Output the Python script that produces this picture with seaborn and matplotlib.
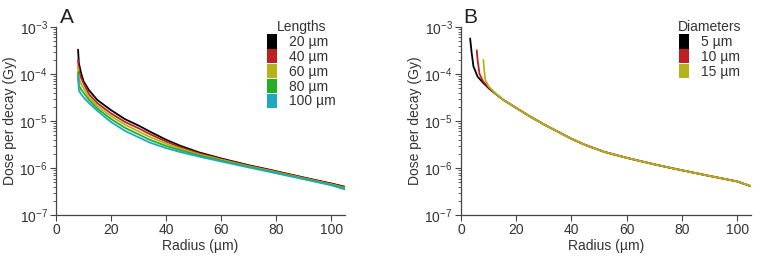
import pandas as pd
import matplotlib.pyplot as plt
import seaborn as sns
from matplotlib.patches import Patch

# -----------------------------
# Panel A: dose vs radius for different lengths
# -----------------------------
radius_a = [8, 8.3, 9, 10, 12, 15, 20, 25, 30, 34, 40, 45, 52, 60, 70, 78, 90, 100, 105]
len_20 = [3.3e-4, 1.7e-4, 1.1e-4, 7.0e-5, 4.5e-5, 2.8e-5, 1.7e-5, 1.1e-5, 8.0e-6, 6.0e-6,
          4.0e-6, 3.0e-6, 2.15e-6, 1.6e-6, 1.15e-6, 9.1e-7, 6.3e-7, 4.7e-7, 4.0e-7]
len_40 = [2.0e-4, 1.2e-4, 8.5e-5, 6.3e-5, 3.7e-5, 2.4e-5, 1.45e-5, 9.6e-6, 7.0e-6, 5.3e-6,
          3.65e-6, 2.8e-6, 2.05e-6, 1.55e-6, 1.12e-6, 8.9e-7, 6.2e-7, 4.6e-7, 3.9e-7]
len_60 = [1.4e-4, 8.0e-5, 6.3e-5, 5.0e-5, 3.2e-5, 2.1e-5, 1.27e-5, 8.4e-6, 6.0e-6, 4.6e-6,
          3.3e-6, 2.6e-6, 1.95e-6, 1.5e-6, 1.09e-6, 8.7e-7, 6.05e-7, 4.5e-7, 3.8e-7]
len_80 = [1.1e-4, 5.8e-5, 4.8e-5, 4.0e-5, 2.8e-5, 1.85e-5, 1.1e-5, 7.2e-6, 5.2e-6, 4.0e-6,
          2.95e-6, 2.4e-6, 1.85e-6, 1.44e-6, 1.06e-6, 8.4e-7, 5.9e-7, 4.4e-7, 3.65e-7]
len_100 = [9.0e-5, 4.5e-5, 3.8e-5, 3.2e-5, 2.4e-5, 1.65e-5, 9.5e-6, 6.2e-6, 4.5e-6, 3.5e-6,
           2.65e-6, 2.2e-6, 1.75e-6, 1.38e-6, 1.03e-6, 8.2e-7, 5.8e-7, 4.3e-7, 3.5e-7]
length_labels = ['20 µm', '40 µm', '60 µm', '80 µm', '100 µm']

# -----------------------------
# Panel B: dose vs radius for different diameters
# -----------------------------
radius_tail = [15, 20, 25, 30, 34, 40, 45, 52, 60, 70, 78, 90, 100, 105]
dose_tail = [2.9e-5, 1.9e-5, 1.25e-5, 8.5e-6, 6.4e-6, 4.2e-6, 3.1e-6, 2.2e-6, 1.65e-6,
             1.2e-6, 9.5e-7, 6.8e-7, 5.2e-7, 4.1e-7]
radius_d5 = [3.3, 3.8, 4.5, 6, 8, 10, 12] + radius_tail
dia_5 = [5.7e-4, 3.0e-4, 1.45e-4, 8.8e-5, 6.5e-5, 5.0e-5, 4.0e-5] + dose_tail
radius_d10 = [5.7, 6.0, 6.7, 8, 10, 12] + radius_tail
dia_10 = [3.2e-4, 2.0e-4, 1.0e-4, 7.0e-5, 5.2e-5, 4.05e-5] + dose_tail
radius_d15 = [8.1, 8.4, 8.8, 10, 12] + radius_tail
dia_15 = [2.0e-4, 1.2e-4, 7.5e-5, 5.5e-5, 4.1e-5] + dose_tail
diameter_labels = ['5 µm', '10 µm', '15 µm']

colors = ['#000000', '#c01f1f', '#b4b41a', '#22b022', '#1fa8c4']

# -----------------------------
# Build long tables
# -----------------------------
df_a = pd.concat([
    pd.DataFrame({'radius': radius_a, 'dose': vals, 'group': lab})
    for vals, lab in zip([len_20, len_40, len_60, len_80, len_100], length_labels)
])
df_b = pd.concat([
    pd.DataFrame({'radius': r, 'dose': vals, 'group': lab})
    for r, vals, lab in zip([radius_d5, radius_d10, radius_d15],
                            [dia_5, dia_10, dia_15], diameter_labels)
])

sns.set_style('ticks')
plt.rcParams['font.family'] = ['Liberation Sans', 'DejaVu Sans']
plt.rcParams['mathtext.fontset'] = 'custom'
plt.rcParams['mathtext.rm'] = 'Liberation Sans'
plt.rcParams['mathtext.it'] = 'Liberation Sans'
plt.rcParams['mathtext.default'] = 'regular'

fig = plt.figure(figsize=(7.57, 2.62), dpi=100)
ax_a = fig.add_axes([0.074, 0.179, 0.382, 0.718])
ax_b = fig.add_axes([0.609, 0.179, 0.383, 0.718])

panels = [
    (ax_a, df_a, length_labels, 'Lengths', 'A', 0.015),
    (ax_b, df_b, diameter_labels, 'Diameters', 'B', 0.008),
]
spine_col = '#444444'
fs = 10
for ax, df, labels, title, letter, lx in panels:
    pal = dict(zip(labels, colors[:len(labels)]))
    sns.lineplot(data=df, x='radius', y='dose', hue='group', palette=pal,
                 linewidth=1.3, legend=False, ax=ax, sort=False)
    ax.set_yscale('log')
    ax.set_ylim(1e-7, 1e-3)
    ax.set_xlim(0, 105)
    ax.set_xticks([0, 20, 40, 60, 80, 100])
    ax.set_xlabel('Radius (µm)', fontsize=fs, color='#333333', labelpad=1)
    ax.set_ylabel('Dose per decay (Gy)', fontsize=fs, color='#333333', labelpad=2)
    ax.tick_params(axis='both', labelsize=fs, colors=spine_col, labelcolor='#333333',
                   direction='out', length=4, width=0.8, pad=2)
    ax.tick_params(axis='y', which='minor', length=2.5, width=0.6, colors=spine_col)
    sns.despine(ax=ax)
    for s in ['left', 'bottom']:
        ax.spines[s].set_color(spine_col)
        ax.spines[s].set_linewidth(0.9)
    handles = [Patch(facecolor=pal[l], edgecolor='none') for l in labels]
    leg = ax.legend(handles, labels, title=title, loc='upper right',
                    bbox_to_anchor=(0.985, 1.065), frameon=False, fontsize=fs,
                    title_fontsize=fs, handlelength=0.75, handleheight=1.2,
                    handletextpad=0.8, labelspacing=0.0, borderaxespad=0)
    leg.get_title().set_color('#333333')
    for t in leg.get_texts():
        t.set_color('#333333')
    ax.text(lx, 1.0, letter, transform=ax.transAxes, fontsize=15,
            color='#222222', va='bottom', ha='left')

plt.savefig('out.png', dpi=100)
